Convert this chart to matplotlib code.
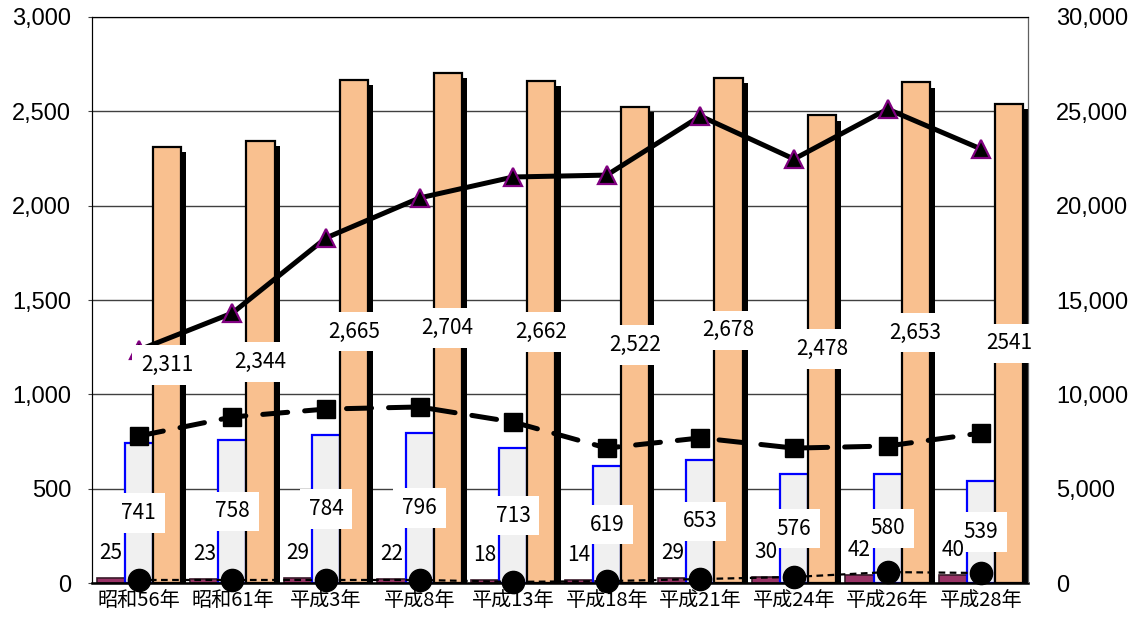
import matplotlib
matplotlib.use("Agg")
import matplotlib.pyplot as plt
import matplotlib.patheffects as pe
import numpy as np

# categories and series (left axis: bars, right axis: lines)
years = ["昭和56年", "昭和61年", "平成3年", "平成8年", "平成13年",
         "平成18年", "平成21年", "平成24年", "平成26年", "平成28年"]
small_bar = [25, 23, 29, 22, 18, 14, 29, 30, 42, 40]
mid_bar = [741, 758, 784, 796, 713, 619, 653, 576, 580, 539]
tall_bar = [2311, 2344, 2665, 2704, 2662, 2522, 2678, 2478, 2653, 2541]
tall_labels = ["2,311", "2,344", "2,665", "2,704", "2,662",
               "2,522", "2,678", "2,478", "2,653", "2541"]
triangle_line = [12350, 14310, 18290, 20410, 21520, 21620, 24750, 22470, 25120, 23000]
square_line = [7790, 8800, 9220, 9330, 8530, 7150, 7690, 7150, 7260, 7950]
circle_line = [160, 160, 160, 160, 60, 100, 210, 320, 580, 530]

left_ticks = [0, 500, 1000, 1500, 2000, 2500, 3000]
right_ticks = [0, 5000, 10000, 15000, 20000, 25000, 30000]

num_font = ["Liberation Sans", "DejaVu Sans"]
jp_font = ["Noto Sans CJK JP", "DejaVu Sans"]

fig = plt.figure(figsize=(11.38, 6.19), dpi=100)
ax = fig.add_axes([92 / 1138, 1 - 583 / 619, 936 / 1138, 566 / 619])
ax2 = ax.twinx()

x = np.arange(len(years))
w = 0.3

ax.bar(x - w, small_bar, w, color="#993366", edgecolor="#3a1a2a", linewidth=1.2, zorder=2)
ax.bar(x, mid_bar, w, color="#f0f0f0", edgecolor="#0000ff", linewidth=1.6, zorder=2)
tall = ax.bar(x + w, tall_bar, w, color="#f9c08f", edgecolor="black", linewidth=1.6, zorder=2)
for patch in tall:
    patch.set_path_effects([
        pe.SimplePatchShadow(offset=(3.8, -3.8), shadow_rgbFace="black", alpha=1.0),
        pe.Normal(),
    ])

ax.set_xlim(-0.5, len(years) - 0.5)
ax.set_ylim(0, 3000)
ax.set_yticks(left_ticks)
ax.set_yticklabels([f"{v:,}" for v in left_ticks], family=num_font, fontsize=17)
ax.yaxis.grid(True, color="#404040", linewidth=1.0, zorder=0)
ax.set_axisbelow(True)
ax.tick_params(axis="y", length=3, pad=12, color="#404040")
ax.set_xticks(x)
ax.set_xticklabels(years, family=jp_font, fontsize=14.5)
ax.tick_params(axis="x", length=0, pad=5)
for side in ["top", "right"]:
    ax.spines[side].set_color("#404040")
ax.spines["left"].set_color("#202020")
ax.spines["bottom"].set_linewidth(1.8)

ax2.set_ylim(0, 30000)
ax2.set_yticks(right_ticks)
ax2.set_yticklabels([f"{v:,}" for v in right_ticks], family=num_font, fontsize=17)
ax2.tick_params(axis="y", length=0, pad=20)
ax2.spines["right"].set_color("#606060")

ax2.plot(x, triangle_line, color="black", linewidth=3.6, marker="^", markersize=13,
         markerfacecolor="black", markeredgecolor="#800080", markeredgewidth=1.6, zorder=3)
sq, = ax2.plot(x, square_line, color="black", linewidth=3.6, marker="s", markersize=13,
               markerfacecolor="black", markeredgecolor="black", zorder=3,
               dash_capstyle="round")
sq.set_dashes((5, 3.4))
ci, = ax2.plot(x, circle_line, color="black", linewidth=1.6, marker="o", markersize=16,
               markerfacecolor="black", markeredgecolor="black", zorder=3, clip_on=False)
ci.set_dashes((3, 2))

box = dict(boxstyle="square,pad=0.42", facecolor="white", edgecolor="none")
for i in range(len(years)):
    ax2.text(x[i] + w, tall_bar[i] / 2, tall_labels[i], transform=ax.transData,
             ha="center", va="center", family=jp_font, fontsize=15, bbox=box, zorder=5)
    ax2.text(x[i], mid_bar[i] / 2, f"{mid_bar[i]}", transform=ax.transData,
             ha="center", va="center", family=jp_font, fontsize=15, bbox=box, zorder=5)
    ax2.annotate(f"{small_bar[i]}", xy=(x[i] - w, small_bar[i]), xycoords=ax.transData,
                 xytext=(0, 18), textcoords="offset points",
                 ha="center", va="center", family=jp_font, fontsize=15, zorder=5)

fig.savefig("out.png", dpi=100)
